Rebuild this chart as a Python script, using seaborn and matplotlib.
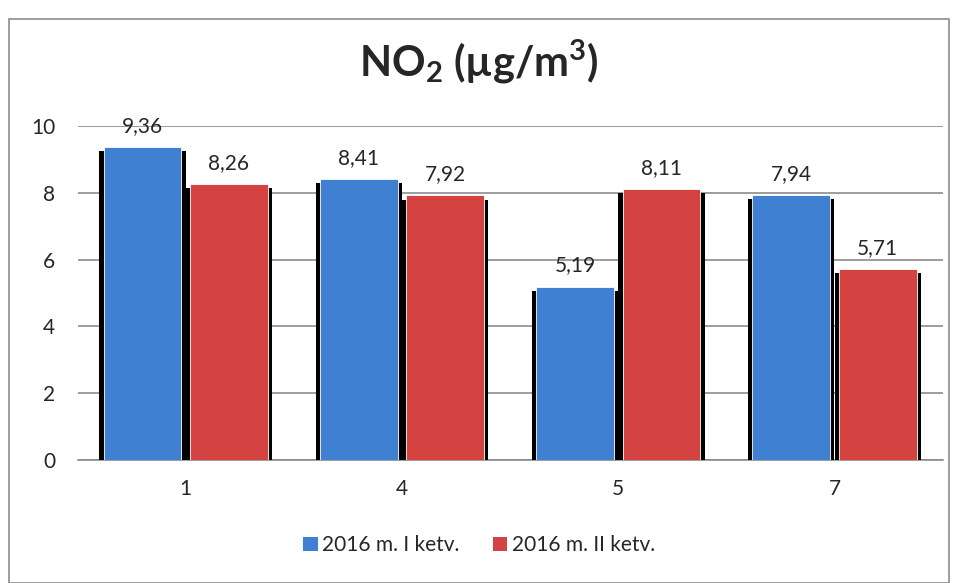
import pandas as pd
import matplotlib.pyplot as plt
import seaborn as sns
from matplotlib import patheffects as pe
from matplotlib.patches import Rectangle

# Duomenys
stations = ['1', '4', '5', '7']
q1_values = [9.36, 8.41, 5.19, 7.94]
q2_values = [8.26, 7.92, 8.11, 5.71]
series_names = ['2016 m. I ketv.', '2016 m. II ketv.']
yticks = [0, 2, 4, 6, 8, 10]

df = pd.DataFrame({
    'stotis': stations * 2,
    'reiksme': q1_values + q2_values,
    'serija': [series_names[0]] * 4 + [series_names[1]] * 4,
})

sns.set_style('white')
plt.rcParams['font.family'] = ['Lato', 'DejaVu Sans']
plt.rcParams['mathtext.default'] = 'regular'

fig = plt.figure(figsize=(9.58, 5.83), dpi=100)
fig.patches.append(Rectangle((0.009, 0.0), 0.982, 0.968, transform=fig.transFigure,
                             fill=False, edgecolor='#8c8c8c', linewidth=1.2))
ax = fig.add_axes([0.081, 0.211, 0.903, 0.573])

colors = ['#3f80d2', '#d44242']
sns.barplot(data=df, x='stotis', y='reiksme', hue='serija', palette=colors,
            saturation=1, width=0.8, gap=0.1, ax=ax, legend=False, zorder=3)

shadow = [pe.SimplePatchShadow(offset=(-3, -3), shadow_rgbFace='black', alpha=1.0),
          pe.SimplePatchShadow(offset=(3, -3), shadow_rgbFace='black', alpha=1.0),
          pe.Normal()]
for bar in ax.patches:
    bar.set_path_effects(shadow)
    bar.set_edgecolor('white')
    bar.set_linewidth(0.6)

for cont in ax.containers:
    labels = [f'{v:.2f}'.replace('.', ',') for v in cont.datavalues]
    ax.bar_label(cont, labels=labels, padding=8, fontsize=15, clip_on=False)

ax.set_ylim(0, 10)
ax.set_yticks(yticks)
ax.set_yticklabels([str(t) for t in yticks], fontsize=15)
ax.tick_params(axis='x', labelsize=15, length=0, pad=14)
ax.tick_params(axis='y', length=0, pad=16)
ax.yaxis.grid(True, color='#8c8c8c', linewidth=1.2, zorder=0)
ax.set_axisbelow(True)
for side in ['left', 'right', 'top']:
    ax.spines[side].set_visible(False)
ax.spines['bottom'].set_color('#8c8c8c')
ax.spines['bottom'].set_linewidth(1.2)
ax.set_xlabel('')
ax.set_ylabel('')

fig.suptitle(r'NO$_2$ (µg/m$^3$)', fontsize=30, fontweight='bold', y=0.935)

handles = [Rectangle((0, 0), 1, 1, facecolor=c, edgecolor='none') for c in colors]
fig.legend(handles, series_names, loc='center', bbox_to_anchor=(0.5, 0.065), ncol=2,
           frameon=False, fontsize=15, handlelength=0.7, handleheight=0.7,
           handletextpad=0.2, columnspacing=1.6)

fig.savefig('out.png', dpi=100)
